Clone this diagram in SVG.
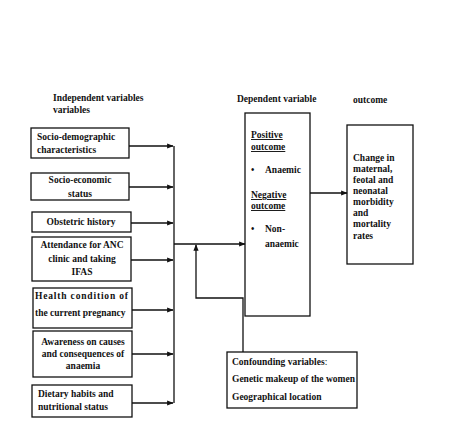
<svg xmlns="http://www.w3.org/2000/svg" width="469" height="439" viewBox="0 0 469 439">
<style>
text{font-family:'Liberation Serif','DejaVu Serif',serif;font-weight:bold;font-size:9.5px;fill:#111}
.c{text-anchor:middle}
.u{text-decoration:underline}
.n{font-weight:normal}
rect{fill:#fff;stroke:#111;stroke-width:1.3}
.ln{fill:none;stroke:#111;stroke-width:1.3}
</style>
<defs>
<marker id="ah" viewBox="0 0 10 10" refX="9" refY="5" markerWidth="5" markerHeight="5" orient="auto"><path d="M0,1 L10,5 L0,9 z" fill="#111"/></marker>
</defs>
<rect x="0" y="0" width="469" height="439" style="stroke:none"/>
<g font-family="Liberation Serif, serif">
<text x="53" y="101">Independent variables</text>
<text x="53" y="113">variables</text>
<text x="237" y="102">Dependent variable</text>
<text x="353" y="103">outcome</text>
<g id="n1"><rect x="31" y="128" width="98" height="30"/><text x="37" y="140">Socio-demographic</text><text x="37" y="153">characteristics</text></g>
<g id="n2"><rect x="31" y="173" width="98" height="27"/><text class="c" x="80" y="183">Socio-economic</text><text class="c" x="80" y="197">status</text></g>
<g id="n3"><rect x="32" y="212" width="99" height="20"/><text class="c" x="81" y="225">Obstetric history</text></g>
<g id="n4"><rect x="32" y="237" width="99" height="44"/><text class="c" x="82" y="248">Attendance for ANC</text><text class="c" x="82" y="262">clinic and taking</text><text class="c" x="82" y="275">IFAS</text></g>
<g id="n5"><rect x="33" y="288" width="99" height="40"/><text x="35" y="299" textLength="93" lengthAdjust="spacing">Health condition of</text><text x="35" y="316">the current pregnancy</text></g>
<g id="n6"><rect x="33" y="331" width="99" height="46"/><text class="c" x="83" y="345">Awareness on causes</text><text class="c" x="83" y="357">and consequences of</text><text class="c" x="83" y="369">anaemia</text></g>
<g id="n7"><rect x="32" y="385" width="100" height="32"/><text x="38" y="397">Dietary habits and</text><text x="38" y="410">nutritional status</text></g>
<g id="dep"><rect x="245" y="113" width="65" height="203"/>
<text class="u" x="251" y="138">Positive</text><text class="u" x="251" y="150">outcome</text>
<text x="251" y="173">•</text><text x="265" y="173">Anaemic</text>
<text class="u" x="251" y="198">Negative</text><text class="u" x="251" y="209">outcome</text>
<text x="251" y="232">•</text><text x="265" y="232">Non-</text><text x="265" y="247">anaemic</text></g>
<g id="out"><rect x="347" y="125" width="66" height="139"/>
<text x="353" y="161">Change in</text><text x="353" y="172">maternal,</text><text x="353" y="183">feotal and</text><text x="353" y="194">neonatal</text><text x="353" y="205">morbidity</text><text x="353" y="216">and</text><text x="353" y="227">mortality</text><text x="353" y="239">rates</text></g>
<g id="conf"><rect x="227" y="352" width="130" height="56"/>
<text x="232" y="365">Confounding variables<tspan class="n">:</tspan></text><text x="232" y="382">Genetic makeup of the women</text><text x="232" y="400">Geographical location</text></g>
</g>
<g id="connectors">
<path class="ln" d="M129,146 H173" marker-end="url(#ah)"/>
<path class="ln" d="M129,187 H173" marker-end="url(#ah)"/>
<path class="ln" d="M131,223 H173" marker-end="url(#ah)"/>
<path class="ln" d="M131,260 H173" marker-end="url(#ah)"/>
<path class="ln" d="M132,310 H173" marker-end="url(#ah)"/>
<path class="ln" d="M132,354 H173" marker-end="url(#ah)"/>
<path class="ln" d="M132,403 H173" marker-end="url(#ah)"/>
<path class="ln" d="M174,146 V403"/>
<path class="ln" d="M174,244 H245" marker-end="url(#ah)"/>
<path class="ln" d="M243,352 V298 H196 V245" marker-end="url(#ah)"/>
<path class="ln" d="M310,193 H347" marker-end="url(#ah)"/>
</g>
</svg>
